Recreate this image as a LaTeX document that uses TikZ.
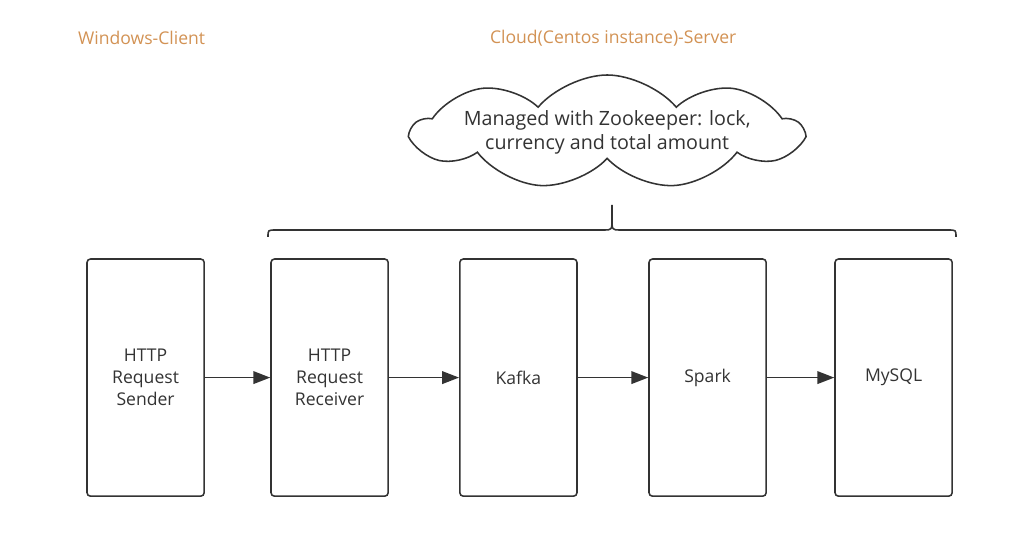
\documentclass[tikz,border=0pt]{standalone}
\usepackage{fontspec}
\setmainfont{Open Sans}
\usetikzlibrary{shapes.symbols,arrows.meta}
\definecolor{titleorange}{RGB}{210,146,84}
\definecolor{linegray}{RGB}{51,51,51}

\begin{document}
\begin{tikzpicture}[
    stage/.style={rectangle, draw=linegray, line width=1.1pt, rounded corners=2.5pt, minimum width=2.93cm, minimum height=5.93cm, align=center, text=linegray, font=\fontsize{12.5}{15.5}\selectfont},
    flow/.style={-{Triangle[length=12pt,width=9pt]}, draw=linegray, line width=1.1pt},
    side/.style={text=titleorange, font=\fontsize{12.5}{15}\selectfont}
]
\useasboundingbox (0,0) rectangle (25.85,13.6);

% Side titles
\node[side] (client) at (3.54,12.65) {Windows-Client};
\node[side] (server) at (15.33,12.65) {Cloud(Centos instance)-Server};

% Zookeeper cloud
\node[cloud, draw=linegray, line width=1.1pt, cloud puffs=9, cloud puff arc=100, aspect=3.3, minimum width=9.7cm, minimum height=2.85cm] (zk) at (15.18,10.3) {};
\node[align=center, text=linegray, font=\fontsize{14}{17}\selectfont] (zktext) at (zk.center) {Managed with Zookeeper: lock,\\currency and total amount};

% Stages
\node[stage] (sender) at (3.64,4.16) {HTTP\\Request\\Sender};
\node[stage] (receiver) at (8.24,4.16) {HTTP\\Request\\Receiver};
\node[stage] (kafka) at (12.96,4.16) {Kafka};
\node[stage] (spark) at (17.69,4.16) {Spark};
\node[stage] (mysql) at (22.34,4.16) {MySQL};

% Arrows
\draw[flow] (sender) -- (receiver);
\draw[flow] (receiver) -- (kafka);
\draw[flow] (kafka) -- (spark);
\draw[flow] (spark) -- (mysql);

% Brace over the server side
\coordinate (bl) at (6.7,7.68);
\coordinate (br) at (23.9,7.68);
\coordinate (tip) at (15.3,8.48);
\draw[linegray, line width=1.1pt]
    (bl) .. controls (6.7,7.85) .. (6.9,7.85) -- (15.1,7.85)
    .. controls (15.3,7.85) .. (15.3,8.15) -- (tip)
    (br) .. controls (23.9,7.85) .. (23.7,7.85) -- (15.5,7.85)
    .. controls (15.3,7.85) .. (15.3,8.15);
\end{tikzpicture}
\end{document}
